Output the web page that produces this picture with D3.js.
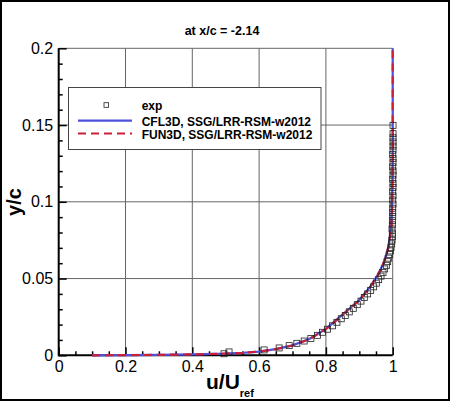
<!DOCTYPE html>
<html>
<head>
<meta charset="utf-8">
<script src="https://cdn.jsdelivr.net/npm/d3@7"></script>
<style>
  body { margin: 0; background: #fff; }
  svg { display: block; font-family: "Liberation Sans", Arial, sans-serif; }
  .tick text { font-size: 16px; fill: #000; }
</style>
</head>
<body>
<script>
var w = 450, h = 401;

// experimental profile (u/Uref, y/c)
var expU = [0.495, 0.510, 0.615, 0.660, 0.690, 0.713, 0.735, 0.755, 0.775, 0.790,
            0.805, 0.820, 0.833, 0.846, 0.858, 0.870, 0.882, 0.894, 0.905, 0.915,
            0.925, 0.934, 0.943, 0.951, 0.958, 0.965, 0.971, 0.976, 0.981, 0.985,
            0.988, 0.991, 0.993, 0.995, 0.997, 0.998, 0.999, 0.999, 0.998, 0.999,
            0.999, 1.000, 1.000, 1.000, 1.001, 1.000, 1.001, 1.000, 1.001, 1.001,
            1.000, 1.001, 1.001, 1.000, 1.001, 1.001, 1.000, 1.001, 1.001, 1.001,
            1.001, 1.001, 1.001];
var expY = [0.0010, 0.0022, 0.0035, 0.0048, 0.0063, 0.0078, 0.0093, 0.0110, 0.0130, 0.0150,
            0.0170, 0.0192, 0.0215, 0.0238, 0.0260, 0.0283, 0.0306, 0.0330, 0.0353, 0.0376,
            0.0400, 0.0423, 0.0446, 0.0470, 0.0493, 0.0516, 0.0540, 0.0563, 0.0586, 0.0610,
            0.0633, 0.0656, 0.0680, 0.0703, 0.0726, 0.0750, 0.0773, 0.0796, 0.0823, 0.0850,
            0.0877, 0.0904, 0.0931, 0.0958, 0.0985, 0.1012, 0.1039, 0.1066, 0.1093, 0.1120,
            0.1147, 0.1174, 0.1201, 0.1228, 0.1255, 0.1282, 0.1309, 0.1336, 0.1363, 0.1390,
            0.1417, 0.1444, 0.1498];

// CFL3D, SSG/LRR-RSM-w2012
var cflU = [0.10, 0.20, 0.30, 0.40, 0.50, 0.55, 0.60, 0.65, 0.70, 0.75, 0.80, 0.825, 0.85,
            0.875, 0.90, 0.932, 0.955, 0.972, 0.987, 0.994, 0.997, 0.999, 1.000, 1.000];
var cflY = [0.0000, 0.0001, 0.0003, 0.0006, 0.0011, 0.0016, 0.0024, 0.0040, 0.0065, 0.0106,
            0.0172, 0.0218, 0.0266, 0.0313, 0.0360, 0.0445, 0.0522, 0.0598, 0.0705, 0.0815,
            0.0945, 0.1100, 0.1300, 0.2000];

// FUN3D, SSG/LRR-RSM-w2012
var funU = [0.10, 0.20, 0.30, 0.40, 0.50, 0.55, 0.60, 0.65, 0.70, 0.75, 0.80, 0.825, 0.85,
            0.875, 0.90, 0.932, 0.955, 0.972, 0.987, 0.995, 0.998, 0.999, 1.000, 1.000];
var funY = [0.0000, 0.0001, 0.0003, 0.0006, 0.0011, 0.0016, 0.0024, 0.0040, 0.0064, 0.0104,
            0.0170, 0.0216, 0.0264, 0.0311, 0.0358, 0.0443, 0.0520, 0.0596, 0.0700, 0.0810,
            0.0940, 0.1100, 0.1300, 0.2000];

var xTicks = [0, 0.2, 0.4, 0.6, 0.8, 1],
    yTicks = [0, 0.05, 0.1, 0.15, 0.2],
    xMinor = [0.05, 0.1, 0.15, 0.25, 0.3, 0.35, 0.45, 0.5, 0.55, 0.65, 0.7, 0.75, 0.85, 0.9, 0.95],
    yMinor = [0.01, 0.02, 0.03, 0.04, 0.06, 0.07, 0.08, 0.09, 0.11, 0.12, 0.13, 0.14, 0.16, 0.17, 0.18, 0.19],
    xGrid = [0.2, 0.4, 0.6, 0.8, 1],
    yGrid = [0.05, 0.1, 0.15, 0.2];

var blue = "#5050dc", red = "#cc2038";

var x = d3.scaleLinear().domain([0, 1]).range([58.7, 392.7]),
    y = d3.scaleLinear().domain([0, 0.2]).range([355.3, 48.3]);

var svg = d3.select("body").append("svg")
    .attr("width", w)
    .attr("height", h)

svg.append("rect").attr("x", 1).attr("y", 1).attr("width", w - 2).attr("height", h - 2)
    .attr("fill", "#fff").attr("stroke", "#000").attr("stroke-width", 2)

// grid
svg.selectAll(".gx").data(xGrid).enter().append("line")
    .attr("x1", function (d) { return x(d) }).attr("x2", function (d) { return x(d) })
    .attr("y1", y(0)).attr("y2", y(0.2))
    .attr("stroke", "#666").attr("stroke-width", 1)
svg.selectAll(".gy").data(yGrid).enter().append("line")
    .attr("y1", function (d) { return y(d) }).attr("y2", function (d) { return y(d) })
    .attr("x1", x(0)).attr("x2", x(1))
    .attr("stroke", "#666").attr("stroke-width", 1)

// axes (ticks pointing inward)
function styleAxis(g) {
    g.select(".domain").remove()
    g.selectAll(".tick line").attr("stroke", "#000").attr("stroke-width", 1.5)
}
svg.append("g").attr("transform", "translate(0," + y(0) + ")")
    .call(d3.axisBottom(x).tickValues(xMinor).tickSize(-4).tickFormat(""))
    .call(styleAxis)
svg.append("g").attr("transform", "translate(" + x(0) + ",0)")
    .call(d3.axisLeft(y).tickValues(yMinor).tickSize(-4).tickFormat(""))
    .call(styleAxis)
svg.append("g").attr("transform", "translate(0," + y(0) + ")")
    .call(d3.axisBottom(x).tickValues(xTicks).tickSize(-8).tickPadding(5).tickFormat(d3.format("~g")))
    .call(styleAxis)
svg.append("g").attr("transform", "translate(" + x(0) + ",0)")
    .call(d3.axisLeft(y).tickValues(yTicks).tickSize(-8).tickPadding(5.5).tickFormat(d3.format("~g")))
    .call(styleAxis)

svg.append("line").attr("x1", x(0)).attr("x2", x(1)).attr("y1", y(0)).attr("y2", y(0))
    .attr("stroke", "#000").attr("stroke-width", 2)
svg.append("line").attr("x1", x(0)).attr("x2", x(0)).attr("y1", y(0) + 1).attr("y2", y(0.2))
    .attr("stroke", "#000").attr("stroke-width", 2)

// curves
var line = d3.line().x(function (d) { return x(d[0]) }).y(function (d) { return y(d[1]) })

svg.append("path").datum(d3.zip(cflU, cflY)).attr("d", line)
    .attr("fill", "none").attr("stroke", blue).attr("stroke-width", 2.2)
svg.append("path").datum(d3.zip(funU, funY)).attr("d", line)
    .attr("fill", "none").attr("stroke", red).attr("stroke-width", 2.2)
    .attr("stroke-dasharray", "8,5")

// experiment symbols
svg.selectAll(".exp").data(d3.zip(expU, expY)).enter().append("rect")
    .attr("class", "exp")
    .attr("x", function (d) { return x(d[0]) - 3 })
    .attr("y", function (d) { return y(d[1]) - 3 })
    .attr("width", 6).attr("height", 6)
    .attr("fill", "none").attr("stroke", "#222").attr("stroke-width", 0.8)

// title and axis labels
svg.append("text").attr("x", 222).attr("y", 35).attr("text-anchor", "middle")
    .attr("font-size", 12.5).attr("font-weight", "bold").text("at x/c = -2.14")

svg.append("text").attr("transform", "translate(21,202) rotate(-90)")
    .attr("text-anchor", "middle").attr("font-size", 20).attr("font-weight", "bold").text("y/c")

var xl = svg.append("text").attr("x", 206).attr("y", 388.5)
    .attr("font-size", 21).attr("font-weight", "bold")
xl.append("tspan").text("u/U")
xl.append("tspan").attr("dy", 8).attr("font-size", 11).text("ref")

// legend
var lg = svg.append("g")
lg.append("rect").attr("x", 68.5).attr("y", 87.5).attr("width", 252.5).attr("height", 62)
    .attr("fill", "#fff").attr("stroke", "#444").attr("stroke-width", 1)
lg.append("rect").attr("x", 104).attr("y", 102.7).attr("width", 4.6).attr("height", 4.6)
    .attr("fill", "none").attr("stroke", "#222").attr("stroke-width", 0.8)
lg.append("line").attr("x1", 78).attr("x2", 132).attr("y1", 120.7).attr("y2", 120.7)
    .attr("stroke", blue).attr("stroke-width", 2.2)
lg.append("line").attr("x1", 78).attr("x2", 132).attr("y1", 133.5).attr("y2", 133.5)
    .attr("stroke", red).attr("stroke-width", 2.2).attr("stroke-dasharray", "8,5")

var legendNames = ["exp", "CFL3D, SSG/LRR-RSM-w2012", "FUN3D, SSG/LRR-RSM-w2012"],
    legendBase = [109.5, 125.5, 139]
lg.selectAll(".lt").data(legendNames).enter().append("text")
    .attr("x", 141.7).attr("y", function (d, i) { return legendBase[i] })
    .attr("font-size", 12).attr("font-weight", "bold").text(function (d) { return d })
</script>
</body>
</html>
